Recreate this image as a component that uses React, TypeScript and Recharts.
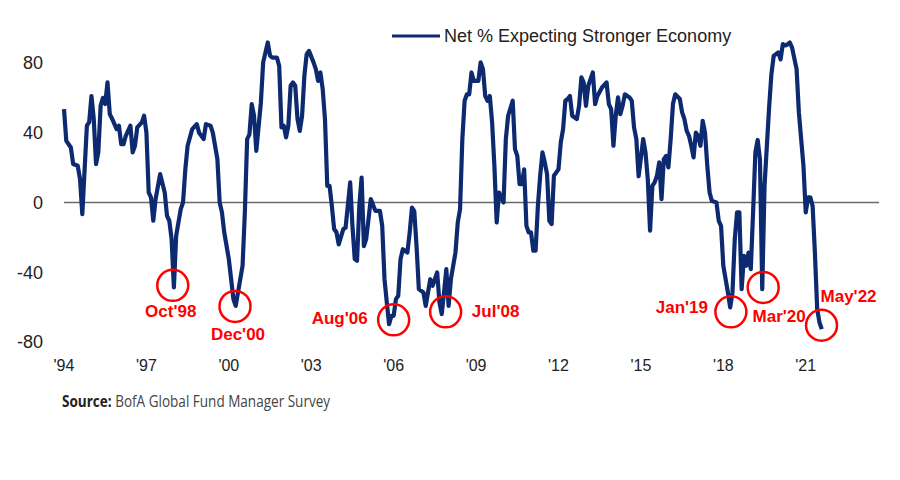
import { LineChart, Line, XAxis, YAxis, ReferenceLine, ReferenceDot } from "recharts";

// [months since Oct 1994, net % expecting a stronger economy]
const net1990s: [number, number][] = [
  [0, 53.5], [1, 35.3], [3, 31.5], [4, 22], [6, 21], [7, 13.4], [8, -6.7], [10, 44], [11, 46],
  [12, 61], [13, 47.8], [14, 22], [15, 28.8], [16, 55.4], [17, 60], [18, 56.4], [19, 68.8],
  [20, 50.6], [21, 48], [23, 42], [24, 44], [25, 33.4], [26, 33.4], [27, 38.2], [29, 44],
  [30, 28.7], [31, 32.5], [32, 43], [34, 45.9], [35, 49.7], [36, 40.1], [37, 5.7], [38, 2.9],
  [39, -10.5], [40, 1.9], [42, 16.2], [44, 5.7], [45, -7.7], [46, -10.5], [47, -21], [48, -48.7],
  [49, -19], [51, -3.8], [52, 0], [53, 19], [54, 32.5], [56, 42], [58, 44.9], [59, 40],
  [61, 36.3], [62, 44.9],
];

const net2000s: [number, number][] = [
  [64, 44], [65, 40], [67, 24.8], [68, 0], [69, -5.7], [70, -17.2], [72, -32.5], [74, -55.4],
  [75, -59.3], [77, -44], [78, -36.3], [79, -5.7], [80, 36.3], [81, 39], [82, 56.4], [83, 49.7],
  [84, 29.6], [86, 57.3], [87, 80.3], [88, 86], [89, 91.7], [90, 84.1], [91, 83], [93, 83],
  [94, 78.3], [95, 43], [96, 44], [97, 37.3], [98, 44], [99, 66.9], [100, 68.8], [101, 66.9],
  [102, 47.8], [103, 41], [104, 49.7], [105, 72.6], [106, 85], [107, 86.9], [109, 80.3],
  [110, 76.4], [111, 69.7], [112, 74.5], [113, 65], [114, 47.8], [115, 9.5], [116, 9.5],
  [117, -2], [118, -15.3], [119, -17], [120, -24], [122, -15.3], [123, -14.5], [125, 11.5],
  [126, -13.4], [127, -32.5], [128, -33.4], [129, -2], [130, 14.3], [131, -25], [132, -21],
  [133, -9.6], [134, 1.9], [136, -4.8], [138, -4.8], [139, -13.4], [140, -44], [141, -57.3],
  [142, -69.8], [143, -65], [144, -65], [145, -55.4], [146, -53.5], [147, -32.5], [148, -26.8],
  [150, -28.7], [151, -17.2], [152, -2.9], [153, -5], [154, -25], [155, -49.7], [157, -51.6],
  [158, -59.3], [160, -44], [161, -47.8], [162, -44], [163, -40.1], [164, -57.3], [165, -64],
  [166, -51.6], [167, -38.2], [168, -59.3], [169, -44], [171, -28.7], [172, -11.5], [173, -3.8],
  [174, 36.3], [175, 58.3], [176, 62], [177, 62], [178, 74.5], [179, 69.7], [181, 69.7],
  [182, 80.3],
];

const net2010s: [number, number][] = [
  [183, 76.4], [184, 61], [185, 58.3], [186, 61], [187, 45.9], [188, 21], [189, -11.5],
  [190, 5.7], [192, 0], [193, 36.3], [194, 49.7], [196, 58.3], [197, 30.6], [198, 26.7],
  [199, 10.5], [200, 10.5], [201, 19], [202, -13.4], [203, -17.2], [204, -17.2], [205, -27.7],
  [206, -27.7], [207, -2], [208, 15.3], [209, 28.7], [210, 23], [211, 16.2], [212, -10.5],
  [213, -12.4], [214, 15.3], [215, 17.2], [216, 19], [217, 34.4], [218, 42], [219, 58.3],
  [220, 59.3], [221, 61], [222, 49.7], [224, 47.8], [225, 55.4], [226, 71.7], [227, 68.8],
  [228, 55.4], [229, 66.9], [230, 70.7], [231, 74.5], [232, 56.4], [233, 61], [235, 65.9],
  [237, 68.8], [238, 56.4], [239, 53.5], [240, 32.5], [241, 49.7], [242, 60.2], [243, 50.6],
  [244, 55.4], [245, 62], [247, 60.2], [248, 58.3], [249, 43], [250, 36.3], [251, 15],
  [253, 36.3], [254, 28.7], [255, 13.4], [256, -16.2], [257, 9.5], [258, 11.5], [259, 15.3],
  [260, 23], [261, 1.9], [262, 24.8], [263, 26.7], [264, 20.1], [265, 36.3], [266, 56.4],
  [267, 62], [269, 59.3], [270, 51.6], [271, 47.8], [272, 41], [273, 38.2], [274, 32.5],
  [275, 25.8], [276, 40], [277, 38.2], [278, 32.5], [279, 46.8], [280, 40], [281, 21],
  [282, 5.7], [283, 0.9], [285, 0], [286, -10.5], [287, -13.4], [288, -36.3], [289, -44],
  [290, -51.6], [291, -60.2], [292, -51.6], [293, -21], [294, -5.7], [295, -5.7], [296, -49.7],
  [297, -30.6], [298, -36.3], [299, -28.7], [300, -38.2], [301, -5.7], [302, 28.7],
];

const net2020s: [number, number][] = [
  [303, 35.8], [304, 24.8], [305, -49.7], [306, 9.5], [308, 54.5], [309, 73.5], [310, 84],
  [312, 86], [313, 82], [314, 90.8], [315, 90], [316, 90.5], [317, 91.7], [318, 88.9],
  [320, 76.4], [321, 51.6], [323, 21], [324, -5.7], [325, 2.9], [326, 2.9], [327, -2],
  [328, -28.7], [329, -61.2], [330, -68.8], [331, -72.6],
];

const tickMonths = [0, 36, 72, 108, 144, 180, 216, 252, 288, 324];
const tickLabels = ["'94", "'97", "'00", "'03", "'06", "'09", "'12", "'15", "'18", "'21"];
const yTicks = [-80, -40, 0, 40, 80];

// circled lows
const lowLabels = ["Oct'98", "Dec'00", "Aug'06", "Jul'08", "Jan'19", "Mar'20", "May'22"];
const lowMonths = [47.5, 74.7, 144, 166.7, 291.3, 305.4, 330.9];
const lowValues = [-47.5, -59.6, -67.3, -62.7, -62.7, -48.7, -70.4];

// where each red label sits relative to its circle (px)
const labelOffset: Record<string, [number, number]> = {
  "Oct'98": [-2, 26],
  "Dec'00": [3, 28],
  "Aug'06": [-54, -1],
  "Jul'08": [50, 0],
  "Jan'19": [-49, -4],
  "Mar'20": [16, 29],
  "May'22": [27, -29],
};

const NAVY = "#0d2a70";
const RED = "#ff0000";
const FONT = "'Liberation Sans', Arial, sans-serif";

const data = [...net1990s, ...net2000s, ...net2010s, ...net2020s].map(([m, v]) => ({ m, v }));

function LowMarker(props: any) {
  const { cx, cy, label } = props;
  const [dx, dy] = labelOffset[label];
  return (
    <g>
      <circle cx={cx} cy={cy} r={15.5} fill="none" stroke={RED} strokeWidth={2.5} />
      <text
        x={cx + dx}
        y={cy + dy}
        textAnchor="middle"
        dominantBaseline="central"
        fill={RED}
        fontFamily={FONT}
        fontWeight={700}
        fontSize={17}
      >
        {label}
      </text>
    </g>
  );
}

export default function App() {
  return (
    <div
      style={{
        position: "absolute",
        left: 0,
        top: 0,
        width: 900,
        height: 480,
        background: "#fff",
        fontFamily: FONT,
      }}
    >
      <LineChart width={900} height={400} data={data} margin={{ top: 28, right: 21, bottom: 28, left: 20 }}>
        <XAxis
          dataKey="m"
          type="number"
          domain={[0, 356]}
          ticks={tickMonths}
          tickFormatter={(m) => tickLabels[tickMonths.indexOf(m)] ?? ""}
          axisLine={false}
          tickLine={false}
          tickMargin={12}
          height={30}
          tick={{ fill: "#222", fontSize: 16, fontFamily: FONT }}
        />
        <YAxis
          domain={[-80, 100]}
          ticks={yTicks}
          axisLine={false}
          tickLine={false}
          tickMargin={15}
          width={44}
          tick={{ fill: "#222", fontSize: 18, fontFamily: FONT }}
        />
        <ReferenceLine y={0} stroke="#6b6b6b" strokeWidth={1.5} />
        <Line
          dataKey="v"
          type="linear"
          stroke={NAVY}
          strokeWidth={4.2}
          strokeLinejoin="round"
          dot={false}
          isAnimationActive={false}
        />
        {lowLabels.map((label, i) => (
          <ReferenceDot
            key={label}
            x={lowMonths[i]}
            y={lowValues[i]}
            r={15.5}
            shape={(p: any) => <LowMarker {...p} label={label} />}
          />
        ))}
      </LineChart>

      <div
        style={{
          position: "absolute",
          left: 392,
          top: 25,
          display: "flex",
          alignItems: "center",
          gap: 4,
          fontSize: 18,
          lineHeight: "22px",
          color: "#222",
          whiteSpace: "nowrap",
        }}
      >
        <svg width={48} height={4}>
          <line x1={0} y1={2} x2={48} y2={2} stroke={NAVY} strokeWidth={3} />
        </svg>
        <span>Net % Expecting Stronger Economy</span>
      </div>

      <div
        style={{
          position: "absolute",
          left: 62,
          top: 391,
          fontFamily: "'Open Sans', sans-serif",
          fontSize: 16.5,
          lineHeight: "20px",
          whiteSpace: "nowrap",
          transform: "scaleX(0.82)",
          transformOrigin: "left center",
        }}
      >
        <span style={{ fontWeight: 700, color: "#222" }}>Source:</span>
        <span style={{ color: "#444" }}> BofA Global Fund Manager Survey</span>
      </div>
    </div>
  );
}
